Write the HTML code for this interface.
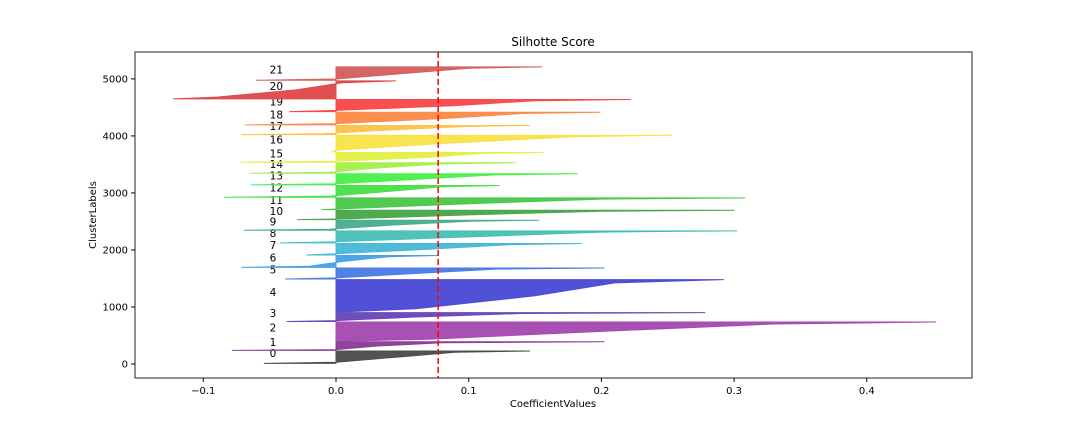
<!DOCTYPE html>
<html><head><meta charset="utf-8"><style>
html,body{margin:0;padding:0;background:#fff;}
svg{display:block;font-family:"DejaVu Sans","Liberation Sans",sans-serif;}
</style></head><body>
<svg id="chart" width="1080" height="432" viewBox="0 0 1080 432">
<rect x="0" y="0" width="1080" height="432" fill="#fff"/>
<g id="plot"></g>
<g id="axes"></g>
</svg>
<script>
const clusterNames = ["0","1","2","3","4","5","6","7","8","9","10","11","12","13","14","15","16","17","18","19","20","21"];
const clusterSizes = [218,151,337,155,569,194,208,201,211,178,165,206,208,194,183,172,293,160,223,213,316,236];
const minVals  = [-0.054,-0.078,0.0,-0.037,0.0,-0.038,-0.071,-0.022,-0.042,-0.069,-0.029,-0.0105,-0.084,-0.064,-0.065,-0.0715,-0.003,-0.071,-0.0686,-0.035,-0.1226,-0.060];
const lowVals  = [0.0,0.0,0.07,0.0,0.06,0.0,-0.02,0.0,0.0,-0.005,0.01,0.01,-0.005,0.0,-0.005,0.0,0.0,-0.01,0.0,0.0,-0.09,0.0];
const medVals  = [0.045,0.03,0.196,0.06,0.15,0.06,0.005,0.07,0.1,0.04,0.1,0.1,0.04,0.06,0.03,0.07,0.08,0.04,0.08,0.09,-0.03,0.05];
const highVals = [0.09,0.08,0.33,0.14,0.21,0.12,0.04,0.13,0.2,0.1,0.2,0.2,0.08,0.12,0.08,0.11,0.18,0.1,0.14,0.15,0.005,0.1];
const maxVals  = [0.146,0.202,0.452,0.278,0.292,0.202,0.077,0.185,0.302,0.153,0.300,0.308,0.123,0.182,0.135,0.156,0.253,0.146,0.199,0.222,0.045,0.155];
const meanScore = 0.077;
const xTicks = [-0.1,0.0,0.1,0.2,0.3,0.4];
const xTickLabels = ["\u22120.1","0.0","0.1","0.2","0.3","0.4"];
const yTicks = [0,1000,2000,3000,4000,5000];
const yTickLabels = ["0","1000","2000","3000","4000","5000"];
const colors = ["#4d4d4d","#8b3d98","#a64ab2","#6a48b8","#4b4bd6","#4a7de6","#4aa2e6","#4ab8d8","#4ac0b8","#4aad90","#4aa84a","#4ac84a","#4ae04a","#4af04a","#a4f04a","#e2f04a","#f8e24a","#fcc24a","#fc8a4a","#f84a4a","#e04a4a","#d46060"];

const L=135,R=972,T=52,B=378;
const X = v => 336 + v*1327;
const Y = v => 364 - v*0.05702;
const NS="http://www.w3.org/2000/svg";
function mk(tag, attrs, parent){const e=document.createElementNS(NS,tag);for(const k in attrs)e.setAttribute(k,attrs[k]);parent.appendChild(e);return e;}
const plot=document.getElementById('plot'), axes=document.getElementById('axes');

const fr=[0,0.1,0.5,0.9,1];
let yLower=10;
for(let i=0;i<clusterSizes.length;i++){
  const s=clusterSizes[i];
  const vals=[minVals[i],lowVals[i],medVals[i],highVals[i],maxVals[i]];
  let pts=[[X(0),Y(yLower)]];
  for(let k=0;k<fr.length;k++) pts.push([X(vals[k]),Y(yLower+fr[k]*s)]);
  pts.push([X(0),Y(yLower+s)]);
  const p=mk('polygon',{points:pts.map(q=>q[0].toFixed(1)+','+q[1].toFixed(1)).join(' '),fill:colors[i],'fill-opacity':0.97,stroke:colors[i],'stroke-width':1,'stroke-linejoin':'round'},plot);
  
  
  const t=mk('text',{x:X(-0.05),y:Y(yLower+0.5*s),'font-size':10.5,fill:'#000'},plot);
  t.textContent=clusterNames[i];
  
  
  yLower+=s+10;
}
const ml=mk('line',{x1:X(meanScore),x2:X(meanScore),y1:T,y2:B,stroke:'#f00','stroke-width':1.5,'stroke-dasharray':'6,3'},plot);



const fr2=mk('rect',{x:L,y:T,width:R-L,height:B-T,fill:'none',stroke:'#222','stroke-width':1},axes);


xTicks.forEach((v,i)=>{
  const x=X(v);
  const tk=mk('line',{x1:x,x2:x,y1:B,y2:B+4,stroke:'#000'},axes);
  
  
  const t=mk('text',{x:x,y:B+16,'font-size':10,'text-anchor':'middle'},axes);
  t.textContent=xTickLabels[i];
  
  
});
yTicks.forEach((v,i)=>{
  const y=Y(v);
  const tk=mk('line',{x1:L-4,x2:L,y1:y,y2:y,stroke:'#000'},axes);
  
  
  const t=mk('text',{x:L-7,y:y+3.5,'font-size':10,'text-anchor':'end'},axes);
  t.textContent=yTickLabels[i];
  
  
});
</script>
<script>
(function(){
const svg=document.getElementById('chart');const NS="http://www.w3.org/2000/svg";
const title=document.createElementNS(NS,'text');
title.setAttribute('x',553);title.setAttribute('y',46);title.setAttribute('font-size',12);title.setAttribute('text-anchor','middle');
title.textContent='Silhotte Score';


svg.appendChild(title);
const xl=document.createElementNS(NS,'text');
xl.setAttribute('x',553);xl.setAttribute('y',407);xl.setAttribute('font-size',10);xl.setAttribute('text-anchor','middle');
xl.textContent='CoefficientValues';


svg.appendChild(xl);
const yl=document.createElementNS(NS,'text');
yl.setAttribute('x',0);yl.setAttribute('y',0);yl.setAttribute('font-size',10);yl.setAttribute('text-anchor','middle');
yl.setAttribute('transform','translate(96,215) rotate(-90)');
yl.textContent='ClusterLabels';


svg.appendChild(yl);
})();
</script>
</body></html>
